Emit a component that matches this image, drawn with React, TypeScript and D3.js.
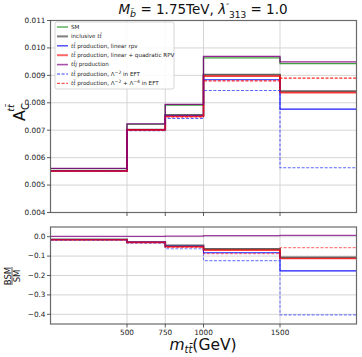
import React from "react";
import * as d3 from "d3";

const binEdges = [0, 500, 750, 1000, 1500, 2000];
const xTicks = [500, 750, 1000, 1500];
const topYTicks = [0.004, 0.005, 0.006, 0.007, 0.008, 0.009, 0.01, 0.011];
const botYTicks = [0.0, -0.1, -0.2, -0.3, -0.4];

const smVals = [0.0056, 0.00722, 0.00792, 0.00964, 0.00943];
const inclusiveVals = [0.00552, 0.00702, 0.00756, 0.00903, 0.00842];
const linRpvVals = [0.00552, 0.00702, 0.00753, 0.00884, 0.00777];
const linQuadVals = [0.00551, 0.00701, 0.00751, 0.00897, 0.00837];
const ttjVals = [0.00561, 0.00723, 0.00794, 0.00969, 0.00949];
const eft2Vals = [0.0055, 0.00698, 0.00743, 0.00845, 0.00563];
const eft24Vals = [0.00551, 0.007, 0.00748, 0.0088, 0.0089];

type Series = {
  key: string;
  vals: number[];
  color: string;
  width: number;
  opacity: number;
  dash?: string;
  ratioOpacity?: number;
  inRatio: boolean;
};

const series: Series[] = [
  { key: "sm", vals: smVals, color: "green", width: 1.3, opacity: 0.75, inRatio: false },
  { key: "incl", vals: inclusiveVals, color: "#222", width: 1.8, opacity: 0.7, inRatio: true },
  { key: "lin", vals: linRpvVals, color: "blue", width: 1.1, opacity: 0.9, inRatio: true },
  { key: "linq", vals: linQuadVals, color: "red", width: 1.7, opacity: 0.75, inRatio: true },
  { key: "eft2", vals: eft2Vals, color: "#2233ff", width: 1.1, opacity: 0.75, dash: "3,1.6", ratioOpacity: 0.6, inRatio: true },
  { key: "eft24", vals: eft24Vals, color: "red", width: 1.1, opacity: 0.85, dash: "3,1.6", ratioOpacity: 0.5, inRatio: true },
  { key: "ttj", vals: ttjVals, color: "purple", width: 1.3, opacity: 0.85, ratioOpacity: 0.75, inRatio: true },
];

const legendOrder = ["sm", "incl", "lin", "linq", "ttj", "eft2", "eft24"];

const FONT = "DejaVu Sans";

const TT = () => (
  <>
    <tspan fontStyle="italic">t</tspan>
    <tspan fontStyle="italic">t̄</tspan>
  </>
);

const legendLabels: Record<string, React.ReactNode> = {
  sm: <tspan>SM</tspan>,
  incl: (
    <>
      <tspan>inclusive </tspan>
      <TT />
    </>
  ),
  lin: (
    <>
      <TT />
      <tspan> production,  linear rpv</tspan>
    </>
  ),
  linq: (
    <>
      <TT />
      <tspan> production, linear + quadratic RPV</tspan>
    </>
  ),
  ttj: (
    <>
      <TT />
      <tspan fontStyle="italic">j</tspan>
      <tspan> production</tspan>
    </>
  ),
  eft2: (
    <>
      <TT />
      <tspan> production, Λ</tspan>
      <tspan dy={-2} fontSize={4.5}>−2</tspan>
      <tspan dy={2}> in EFT</tspan>
    </>
  ),
  eft24: (
    <>
      <TT />
      <tspan> production, Λ</tspan>
      <tspan dy={-2} fontSize={4.5}>−2</tspan>
      <tspan dy={2}> + Λ</tspan>
      <tspan dy={-2} fontSize={4.5}>−4</tspan>
      <tspan dy={2}> in EFT</tspan>
    </>
  ),
};

export default function App() {
  const L = 50.5;
  const R = 356.5;
  const x = d3.scaleLinear().domain([0, 2000]).range([L, R]);
  const yTop = d3.scaleLinear().domain([0.004, 0.011]).range([212.5, 20.5]);
  const yBot = d3.scaleLinear().domain([-0.45, 0.05]).range([324, 227]);

  const stepPath = (vals: number[], y: d3.ScaleLinear<number, number>) => {
    const pts: [number, number][] = binEdges.map((e, i) => [e, vals[Math.min(i, vals.length - 1)]]);
    return d3
      .line<[number, number]>()
      .x((d) => x(d[0]))
      .y((d) => y(d[1]))
      .curve(d3.curveStepAfter)(pts) as string;
  };

  const ratio = (vals: number[]) => vals.map((v, i) => v / smVals[i] - 1);

  const gridColor = "#d0d0d0";
  const spineColor = "#6a6a6a";

  const panel = (
    y: d3.ScaleLinear<number, number>,
    yTicks: number[],
    fmt: (v: number) => string,
    top: number,
    bottom: number,
    isRatio: boolean,
    clipId: string
  ) => (
    <g>
      <defs>
        <clipPath id={clipId}>
          <rect x={L} y={top} width={R - L} height={bottom - top} />
        </clipPath>
      </defs>
      {xTicks.map((t) => (
        <line key={"gx" + t} x1={x(t)} x2={x(t)} y1={top} y2={bottom} stroke={gridColor} strokeWidth={0.9} />
      ))}
      {yTicks.map((t) => (
        <line key={"gy" + t} x1={L} x2={R} y1={y(t)} y2={y(t)} stroke={gridColor} strokeWidth={0.9} />
      ))}
      <g clipPath={`url(#${clipId})`}>
        {series
          .filter((s) => !isRatio || s.inRatio)
          .map((s) => (
            <path
              key={s.key}
              d={stepPath(isRatio ? ratio(s.vals) : s.vals, y)}
              fill="none"
              stroke={s.color}
              strokeWidth={s.width}
              strokeOpacity={isRatio && s.ratioOpacity !== undefined ? s.ratioOpacity : s.opacity}
              strokeDasharray={s.dash}
            />
          ))}
      </g>
      <rect x={L} y={top} width={R - L} height={bottom - top} fill="none" stroke={spineColor} strokeWidth={1.2} />
      {yTicks.map((t) => (
        <g key={"ty" + t}>
          <line x1={L - 3.5} x2={L} y1={y(t)} y2={y(t)} stroke="#333" strokeWidth={0.8} />
          <text x={L - 5} y={y(t)} dy="0.32em" textAnchor="end" fontSize={7.3} fontFamily={FONT} fill="#222">
            {fmt(t)}
          </text>
        </g>
      ))}
      {xTicks.map((t) => (
        <g key={"tx" + t}>
          <line x1={x(t)} x2={x(t)} y1={bottom} y2={bottom + 3.5} stroke="#333" strokeWidth={0.8} />
          {isRatio && (
            <text x={x(t)} y={bottom + 10.5} textAnchor="middle" fontSize={7.3} fontFamily={FONT} fill="#222">
              {t}
            </text>
          )}
        </g>
      ))}
    </g>
  );

  const legendX = 55;
  const legendY = 22;
  const rowH = 9.4;

  return (
    <svg
      width={362}
      height={357}
      style={{ position: "absolute", left: 0, top: 0, display: "block", background: "white" }}
    >
      <rect x={0} y={0} width={362} height={357} fill="white" />
      {/* title */}
      <text x={203} y={14} textAnchor="middle" fontSize={13.5} fontFamily={FONT} fill="#111">
        <tspan fontStyle="italic">M</tspan>
        <tspan fontSize={9.5} dy={3} fontStyle="italic">b̃</tspan>
        <tspan dy={-3}> = 1.75TeV, </tspan>
        <tspan fontStyle="italic">λ</tspan>
        <tspan fontSize={7.5} dy={-5.5}>″</tspan>
        <tspan fontSize={9} dy={9}>313</tspan>
        <tspan dy={-3.5}> = 1.0</tspan>
      </text>

      {panel(yTop, topYTicks, (v) => d3.format(".3f")(v), 20.5, 212.5, false, "clipTop")}
      {panel(yBot, botYTicks, (v) => d3.format(".1f")(v).replace("-", "−"), 227, 324, true, "clipBot")}

      {/* legend */}
      <rect
        x={legendX}
        y={legendY}
        width={119}
        height={67}
        rx={2}
        fill="white"
        fillOpacity={0.85}
        stroke="#cccccc"
        strokeWidth={0.8}
      />
      {legendOrder.map((k, i) => {
        const s = series.find((d) => d.key === k)!;
        const yy = legendY + 5 + i * rowH;
        return (
          <g key={"lg" + k}>
            <line
              x1={legendX + 2}
              x2={legendX + 13}
              y1={yy}
              y2={yy}
              stroke={s.color}
              strokeWidth={s.width + 0.3}
              strokeOpacity={s.opacity * 0.8}
              strokeDasharray={s.dash}
            />
            <text x={legendX + 16} y={yy} dy="0.33em" fontSize={5.6} fontFamily={FONT} fill="#222">
              {legendLabels[k]}
            </text>
          </g>
        );
      })}

      {/* y label top */}
      <text transform="translate(25,112) rotate(-90)" textAnchor="middle" fontSize={16} fontFamily={FONT} fill="#111">
        <tspan>A</tspan>
        <tspan fontSize={10} dy={4}>C</tspan>
      </text>
      <text transform="translate(14,108) rotate(-90)" textAnchor="middle" fontSize={9.5} fontFamily={FONT} fontStyle="italic" fill="#111">
        tt̄
      </text>

      {/* y label bottom: fraction */}
      <g transform="translate(12,276) rotate(-90)" fontFamily={FONT} fill="#111">
        <text x={0} y={-1.5} textAnchor="middle" fontSize={8.5}>BSM</text>
        <line x1={-9} x2={9} y1={0} y2={0} stroke="#111" strokeWidth={0.7} />
        <text x={0} y={7.5} textAnchor="middle" fontSize={8.5}>SM</text>
      </g>

      {/* x label */}
      <text x={203} y={349.5} textAnchor="middle" fontSize={15.5} fontFamily={FONT} fill="#111">
        <tspan fontStyle="italic">m</tspan>
        <tspan fontSize={10} dy={3} fontStyle="italic">tt̄</tspan>
        <tspan dy={-3}>(GeV)</tspan>
      </text>
    </svg>
  );
}
